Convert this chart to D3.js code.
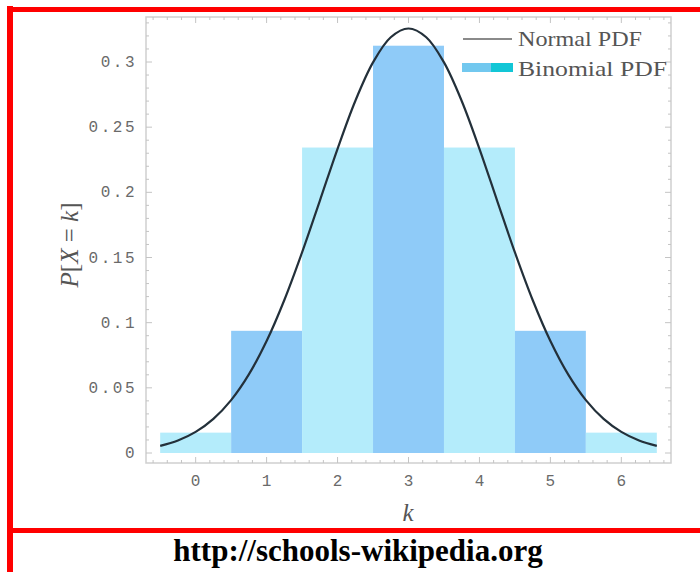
<!DOCTYPE html>
<html><head><meta charset="utf-8">
<script src="https://cdn.jsdelivr.net/npm/d3@7"></script>
<style>html,body{margin:0;padding:0;background:#fff;overflow:hidden}</style>
</head><body>
<svg id="c" width="700" height="572"></svg>
<script>
// ---- data ----
const categories = [0, 1, 2, 3, 4, 5, 6];
const binomialValues = [0.015625, 0.09375, 0.234375, 0.3125, 0.234375, 0.09375, 0.015625];
const normalX = [-0.5,-0.25,0,0.25,0.5,0.75,1,1.25,1.5,1.75,2,2.25,2.5,2.75,3,3.25,3.5,3.75,4,4.25,4.5,4.75,5,5.25,5.5,5.75,6,6.25,6.5];
const normalY = [0.0055,0.0096,0.0162,0.0262,0.0406,0.0603,0.0859,0.1174,0.1539,0.1935,0.2334,0.2701,0.2997,0.3190,0.3257,0.3190,0.2997,0.2701,0.2334,0.1935,0.1539,0.1174,0.0859,0.0603,0.0406,0.0262,0.0162,0.0096,0.0055];
const xTickLabels = ["0","1","2","3","4","5","6"];
const yTickValues = [0, 0.05, 0.1, 0.15, 0.2, 0.25, 0.3];
const yTickLabels = ["0","0.05","0.1","0.15","0.2","0.25","0.3"];
const legendLabels = ["Normal PDF", "Binomial PDF"];

const svg = d3.select("#c");
const L = 146, R = 671, T = 17, B = 463;
const x = d3.scaleLinear().domain([-0.7, 6.7]).range([L, R]);
const y = d3.scaleLinear().domain([0, 0.3]).range([453, 62]);

const light = "#b4ecfb", dark = "#8fcbf8";

// bars
svg.append("g").selectAll("rect").data(categories).join("rect")
  .attr("x", d => x(d - 0.5))
  .attr("width", d => x(d + 0.5) - x(d - 0.5))
  .attr("y", (d, i) => y(binomialValues[i]))
  .attr("height", (d, i) => y(0) - y(binomialValues[i]))
  .attr("fill", d => d % 2 === 1 ? dark : light);

// normal curve
const pts = normalX.map((v, i) => [v, normalY[i]]);
svg.append("path").datum(pts)
  .attr("d", d3.line().x(d => x(d[0])).y(d => y(d[1])).curve(d3.curveCatmullRom))
  .attr("fill", "none").attr("stroke", "#23303a").attr("stroke-width", 2.2);

// frame
svg.append("rect").attr("x", L).attr("y", T).attr("width", R - L).attr("height", B - T)
  .attr("fill", "none").attr("stroke", "#cfcfcf").attr("stroke-width", 1.5);

// ticks
const tk = svg.append("g").attr("stroke", "#c4c4c4").attr("stroke-width", 1);
const xMinor = d3.range(-0.6, 6.7, 0.2).filter(v => Math.abs(v - Math.round(v)) > 1e-6);
categories.forEach(v => {
  tk.append("line").attr("x1", x(v)).attr("x2", x(v)).attr("y1", B).attr("y2", B - 6);
  tk.append("line").attr("x1", x(v)).attr("x2", x(v)).attr("y1", T).attr("y2", T + 6);
});
xMinor.forEach(v => {
  tk.append("line").attr("x1", x(v)).attr("x2", x(v)).attr("y1", B).attr("y2", B - 3);
  tk.append("line").attr("x1", x(v)).attr("x2", x(v)).attr("y1", T).attr("y2", T + 3);
});
const yMinor = d3.range(0, 0.331, 0.01).filter(v => Math.abs(v * 20 - Math.round(v * 20)) > 1e-6);
yTickValues.forEach(v => {
  tk.append("line").attr("x1", L).attr("x2", L + 6).attr("y1", y(v)).attr("y2", y(v));
  tk.append("line").attr("x1", R).attr("x2", R - 6).attr("y1", y(v)).attr("y2", y(v));
});
yMinor.forEach(v => {
  tk.append("line").attr("x1", L).attr("x2", L + 3).attr("y1", y(v)).attr("y2", y(v));
  tk.append("line").attr("x1", R).attr("x2", R - 3).attr("y1", y(v)).attr("y2", y(v));
});

// tick labels
svg.append("g").selectAll("text").data(yTickValues).join("text")
  .attr("x", L - 9).attr("y", d => y(d) + 5)
  .attr("text-anchor", "end")
  .attr("font-family", "Liberation Mono, monospace").attr("font-size", 16)
  .attr("letter-spacing", 2.5)
  .attr("fill", "#6a6a6a")
  .text((d, i) => yTickLabels[i]);
svg.append("g").selectAll("text").data(categories).join("text")
  .attr("x", d => x(d)).attr("y", 486)
  .attr("text-anchor", "middle")
  .attr("font-family", "Liberation Mono, monospace").attr("font-size", 16)
  .attr("fill", "#6a6a6a")
  .text((d, i) => xTickLabels[i]);

// axis labels
svg.append("text").attr("x", 408).attr("y", 521).attr("text-anchor", "middle")
  .attr("font-family", "Liberation Serif, serif").attr("font-style", "italic")
  .attr("font-size", 25).attr("fill", "#555").text("k");
const yl = svg.append("text").attr("transform", "translate(78,245) rotate(-90)")
  .attr("text-anchor", "middle")
  .attr("font-family", "Liberation Serif, serif").attr("font-size", 25).attr("fill", "#555");
yl.append("tspan").attr("font-style", "italic").text("P");
yl.append("tspan").text("[");
yl.append("tspan").attr("font-style", "italic").text("X");
yl.append("tspan").text(" = ");
yl.append("tspan").attr("font-style", "italic").text("k");
yl.append("tspan").text("]");

// legend
svg.append("line").attr("x1", 463).attr("x2", 512).attr("y1", 39).attr("y2", 39)
  .attr("stroke", "#8a8a8a").attr("stroke-width", 2);
svg.append("rect").attr("x", 462).attr("y", 63).attr("width", 29).attr("height", 9).attr("fill", "#72c8ef");
svg.append("rect").attr("x", 491).attr("y", 63).attr("width", 22).attr("height", 9).attr("fill", "#12c6d6");
const legendWidths = [124, 149];
svg.append("g").selectAll("text").data(legendLabels).join("text")
  .attr("x", 518).attr("y", (d, i) => 46 + i * 30)
  .attr("font-family", "Liberation Serif, serif").attr("font-size", 21)
  .attr("textLength", (d, i) => legendWidths[i]).attr("lengthAdjust", "spacingAndGlyphs")
  .attr("fill", "#555").text(d => d);

// red border lines
const red = "#ff0000";
svg.append("rect").attr("x", 7).attr("y", 6).attr("width", 6).attr("height", 566).attr("fill", red);
svg.append("rect").attr("x", 7).attr("y", 7).attr("width", 693).attr("height", 5).attr("fill", red);
svg.append("rect").attr("x", 7).attr("y", 528).attr("width", 693).attr("height", 5).attr("fill", red);

// footer url
svg.append("text").attr("x", 358).attr("y", 561).attr("text-anchor", "middle")
  .attr("font-family", "Liberation Serif, serif").attr("font-weight", "bold")
  .attr("font-size", 31).attr("fill", "#000").text("http://schools-wikipedia.org");
</script>
</body></html>
